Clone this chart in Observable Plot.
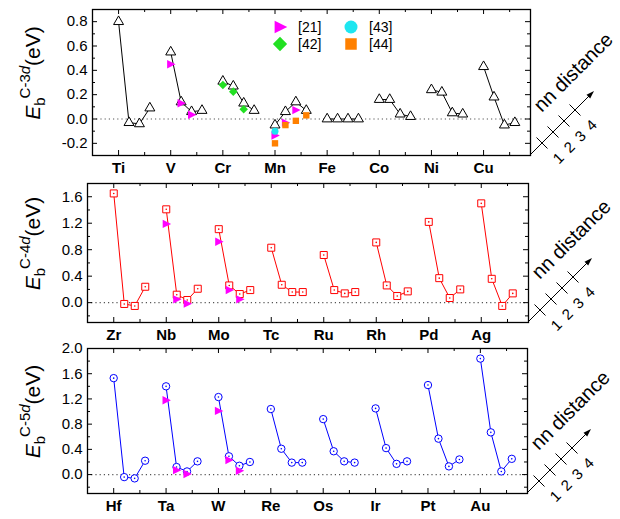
<!DOCTYPE html>
<html><head><meta charset="utf-8">
<script src="https://cdn.jsdelivr.net/npm/d3@7"></script>
<script src="https://cdn.jsdelivr.net/npm/@observablehq/plot@0.6"></script>
<style>
body{margin:0;background:#fff;}
#chart{position:relative;width:620px;height:519px;font-family:"Liberation Sans",Arial,sans-serif;}
#chart svg{position:absolute;left:0;overflow:visible;}
</style></head><body><div id="chart"></div>
<script>
// ---------- data ----------
const nnPositions = [1, 2, 3, 4];
const elements3d = ["Ti","V","Cr","Mn","Fe","Co","Ni","Cu"];
const values3d = [
  [0.80,-0.03,-0.04,0.09],[0.55,0.14,0.06,0.07],[0.31,0.27,0.13,0.07],[-0.05,0.06,0.14,0.07],
  [0.00,0.00,0.00,0.00],[0.16,0.16,0.04,0.02],[0.24,0.22,0.05,0.04],[0.43,0.18,-0.05,-0.03]];
const elements4d = ["Zr","Nb","Mo","Tc","Ru","Rh","Pd","Ag"];
const values4d = [
  [1.65,-0.02,-0.05,0.24],[1.41,0.12,0.04,0.21],[1.11,0.26,0.13,0.19],[0.83,0.27,0.16,0.16],
  [0.72,0.19,0.14,0.16],[0.91,0.26,0.10,0.17],[1.22,0.37,0.07,0.20],[1.50,0.36,-0.05,0.14]];
const elements5d = ["Hf","Ta","W","Re","Os","Ir","Pt","Au"];
const values5d = [
  [1.53,-0.04,-0.06,0.22],[1.40,0.12,0.05,0.21],[1.23,0.29,0.14,0.20],[1.04,0.41,0.19,0.19],
  [0.88,0.37,0.21,0.19],[1.05,0.42,0.17,0.21],[1.42,0.57,0.13,0.24],[1.84,0.67,0.05,0.25]];
// reference values: [element, nn, value]
const ref21 = [["V",1,0.45],["V",2,0.13],["V",3,0.035],["Mn",1,-0.135],["Mn",2,-0.03],["Mn",3,0.073],
  ["Nb",1,1.19],["Nb",2,0.05],["Nb",3,-0.015],["Mo",1,0.92],["Mo",2,0.19],["Mo",3,0.05],
  ["Ta",1,1.18],["Ta",2,0.07],["Ta",3,0.01],["W",1,1.01],["W",2,0.23],["W",3,0.06]];
const ref42 = [["Cr",1,0.28],["Cr",2,0.225],["Cr",3,0.08]];
const ref43 = [["Mn",1,-0.10]];
const ref44 = [["Mn",1,-0.20],["Mn",2,-0.05],["Mn",3,-0.015],["Mn",4,0.03]];
const refLabels = ["[21]","[42]","[43]","[44]"];
const yTicks3d = [-0.2,0,0.2,0.4,0.6,0.8], yMinor3d = [-0.3,-0.1,0.1,0.3,0.5,0.7,0.9];
const yTicks4d = [0,0.4,0.8,1.2,1.6], yMinor4d = [-0.2,0.2,0.6,1.0,1.4];
const yTicks5d = [0,0.4,0.8,1.2,1.6,2.0], yMinor5d = [-0.2,0.2,0.6,1.0,1.4,1.8];
const yDomain3d = [-0.3,0.9], yDomain4d = [-0.3,1.8], yDomain5d = [-0.3,2.0];
const xDomain = [-0.5,7.9];

// ---------- symbols ----------
const rightTri = {draw(c, size){const r=Math.sqrt(size/Math.PI); c.moveTo(-0.85*r,-r); c.lineTo(1.15*r,0); c.lineTo(-0.85*r,r); c.closePath();}};
const diamond = {draw(c, size){const r=Math.sqrt(size/Math.PI)*1.15; c.moveTo(0,-r); c.lineTo(r,0); c.lineTo(0,r); c.lineTo(-r,0); c.closePath();}};
const NNSTEP = 0.2;
function rows(els, vals){const out=[]; els.forEach((el,i)=>vals[i].forEach((v,j)=>out.push({el, x:i+NNSTEP*(nnPositions[j]-1), v}))); return out;}
function refRows(els, ref){return ref.filter(d=>els.includes(d[0])).map(([el,nn,v])=>({el, x:els.indexOf(el)+NNSTEP*(nn-1), v}));}
const refStyles = [
  {data: ref21, symbol: rightTri, fill: "#ff00ff", r: 4.2},
  {data: ref42, symbol: diamond, fill: "#22e022", r: 3.7},
  {data: ref43, symbol: "circle", fill: "#1ee6f0", r: 3.5},
  {data: ref44, symbol: "square", fill: "#ff8000", r: 3.6}
];
const FONT = "'Liberation Sans',Arial,sans-serif";
const root = document.getElementById("chart");

function panel(cfg){
  const {els, vals, color, symbol, r, centerDot, ydom, yticks, yminor, sup, top, height, m} = cfg;
  const data = rows(els, vals);
  const xMaj = d3.range(els.length), xMin = xMaj.map(i=>i+0.5);
  const [x0,x1] = xDomain, [y0,y1] = ydom;
  const tk = (vals, size, side) => {
    if (side==="bottom") return Plot.ruleX(vals,{x:d=>d,y1:y0,y2:y0,insetBottom:size,stroke:"black"});
    if (side==="top") return Plot.ruleX(vals,{x:d=>d,y1:y1,y2:y1,insetTop:size,stroke:"black"});
    if (side==="left") return Plot.ruleY(vals,{y:d=>d,x1:x0,x2:x0,insetLeft:size,stroke:"black"});
    return Plot.ruleY(vals,{y:d=>d,x1:x1,x2:x1,insetRight:size,stroke:"black"});
  };
  const marks = [
    Plot.ruleY([0],{stroke:"#555",strokeWidth:1.2,strokeDasharray:"1.2,3"}),
    Plot.line(data,{x:"x",y:"v",z:"el",stroke:color,strokeWidth:1}),
    Plot.dot(data,{x:"x",y:"v",symbol,r,stroke:color,fill:"white",strokeWidth:1})
  ];
  if (centerDot) marks.push(Plot.dot(data,{x:"x",y:"v",r:0.8,fill:color,stroke:"none"}));
  for (const s of refStyles){
    const rr = refRows(els, s.data);
    if (rr.length) marks.push(Plot.dot(rr,{x:"x",y:"v",symbol:s.symbol,r:s.r,fill:s.fill,stroke:"none"}));
  }
  marks.push(
    tk(xMaj,5,"bottom"), tk(xMin,3,"bottom"), tk(xMaj,5,"top"), tk(xMin,3,"top"),
    tk(yticks,5,"left"), tk(yminor,3,"left"), tk(yticks,5,"right"), tk(yminor,3,"right"),
    Plot.frame({stroke:"black",strokeWidth:1.3}),
    Plot.axisX({ticks:xMaj,tickFormat:i=>els[i],tickSize:0,tickPadding:7,fontSize:15,fontWeight:"bold",label:null}),
    Plot.axisY({ticks:yticks,tickFormat:d=>d.toFixed(1),tickSize:0,tickPadding:5,fontSize:15,label:null})
  );
  const svg = Plot.plot({
    width:620, height, marginTop:m[0], marginRight:m[1], marginBottom:m[2], marginLeft:m[3],
    x:{domain:xDomain}, y:{domain:ydom},
    style:{fontFamily:FONT,background:"transparent",overflow:"visible"},
    marks
  });
  svg.style.top = top + "px";
  root.appendChild(svg);
  const S = d3.select(svg);
  // y label
  const cy = (m[0] + height - m[2]) / 2 - 9;
  const t = S.append("text").attr("transform",`translate(40,${cy}) rotate(-90)`)
    .attr("text-anchor","middle").attr("fill","black").attr("font-size",21)
    .attr("font-family",FONT);
  t.append("tspan").attr("font-style","italic").text("E");
  t.append("tspan").attr("font-size",15).attr("dy",5).text("b");
  t.append("tspan").attr("font-size",15).attr("dy",-15).attr("dx",-1).text(sup);
  t.append("tspan").attr("font-size",15).attr("font-style","italic").text("d");
  t.append("tspan").attr("dy",10).text("(eV)");
  // nn distance schematic
  const cx = 620 - m[1], cyc = height - m[2];
  const g = S.append("g").attr("stroke","black").attr("stroke-width",1).attr("fill","none");
  const L = 64;
  g.append("line").attr("x1",cx).attr("y1",cyc).attr("x2",cx+L-3).attr("y2",cyc-L+3);
  const tip=[cx+L,cyc-L], u=[Math.SQRT1_2,-Math.SQRT1_2], p=[Math.SQRT1_2,Math.SQRT1_2];
  const b=[tip[0]-8*u[0],tip[1]-8*u[1]];
  g.append("polygon").attr("fill","black").attr("stroke","none")
    .attr("points",[tip,[b[0]+2.6*p[0],b[1]+2.6*p[1]],[b[0]-2.6*p[0],b[1]-2.6*p[1]]].map(q=>q.join(",")).join(" "));
  nnPositions.forEach((n,k)=>{
    const tt = 12 + 11*k;
    g.append("line").attr("x1",cx+tt-5.5).attr("y1",cyc-tt-5.5).attr("x2",cx+tt+5.5).attr("y2",cyc-tt+5.5);
    S.append("text").attr("transform",`translate(${cx+tt+16},${cyc-tt+15}) rotate(-45)`)
      .attr("text-anchor","middle").attr("dominant-baseline","central").attr("font-size",15)
      .attr("font-family",FONT).attr("fill","black").text(n);
  });
  S.append("text").attr("transform",`translate(${cx+43},${cyc-83}) rotate(-45)`)
    .attr("text-anchor","middle").attr("dominant-baseline","central").attr("font-size",20)
    .attr("font-family",FONT).attr("fill","black").text("nn distance");
  return S;
}

const S1 = panel({els:elements3d, vals:values3d, color:"black", symbol:"triangle", r:3.7, centerDot:false,
  ydom:yDomain3d, yticks:yTicks3d, yminor:yMinor3d, sup:"C-3", top:0, height:176, m:[9,90,21,92]});
panel({els:elements4d, vals:values4d, color:"#ff0000", symbol:"square", r:3.95, centerDot:true,
  ydom:yDomain4d, yticks:yTicks4d, yminor:yMinor4d, sup:"C-4", top:176, height:166, m:[7,92,20,87]});
panel({els:elements5d, vals:values5d, color:"#0000ff", symbol:"circle", r:3.7, centerDot:true,
  ydom:yDomain5d, yticks:yTicks5d, yminor:yMinor5d, sup:"C-5", top:342, height:177, m:[6,93,26,87]});

// legend (top panel)
const legendPos = [[280,27],[280,44],[351,27],[351,44]];
const legendSyms = [
  [d3.symbol(rightTri, Math.PI*6.3*6.3)(), "#ff00ff"],
  [d3.symbol(diamond, Math.PI*6.2*6.2)(), "#22e022"],
  [d3.symbol(d3.symbolCircle, Math.PI*6.5*6.5)(), "#1ee6f0"],
  [d3.symbol(d3.symbolSquare, 11.5*11.5)(), "#ff8000"]
];
const lg = S1.append("g").attr("font-size",14).attr("font-family",FONT).attr("text-anchor","start");
refLabels.forEach((lab,k)=>{
  const [x,y] = legendPos[k];
  lg.append("path").attr("d",legendSyms[k][0]).attr("fill",legendSyms[k][1]).attr("transform",`translate(${x},${y})`);
  lg.append("text").attr("x",x+18).attr("y",y).attr("dy","0.35em").attr("text-anchor","start").attr("fill","black").text(lab);
});
</script></body></html>
